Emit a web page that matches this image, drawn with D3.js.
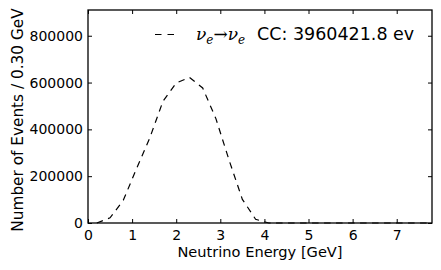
<!DOCTYPE html>
<html>
<head>
<meta charset="utf-8">
<script src="https://cdn.jsdelivr.net/npm/d3@7"></script>
<style>
  body { margin: 0; background: #fff; }
  text { font-family: "DejaVu Sans", sans-serif; }
</style>
</head>
<body>
<svg id="chart"></svg>
<script>
// bin centres (GeV) and event counts
const energies = [0.2, 0.5, 0.8, 1.1, 1.4, 1.7, 2.0, 2.3, 2.6, 2.9, 3.2, 3.5, 3.8, 4.1,
                  4.4, 4.7, 5.0, 5.3, 5.6, 5.9, 6.2, 6.5, 6.8, 7.1, 7.4, 7.7];
const events = [0, 22000, 97000, 232000, 363000, 520000, 598000, 622000, 577000, 446000,
                268000, 101000, 16000, 0, 0, 0, 0, 0, 0, 0, 0, 0, 0, 0, 0, 0];
const xTicks = [0, 1, 2, 3, 4, 5, 6, 7];
const yTicks = [0, 200000, 400000, 600000, 800000];
const legendLabel = "CC: 3960421.8 ev";

const data = energies.map((e, i) => ({ e, n: events[i] }));

const width = 441;
const height = 270;
const margin = { top: 10, right: 9, bottom: 47, left: 88 };

const svg = d3.select("#chart")
  .attr("width", width)
  .attr("height", height);

const x = d3.scaleLinear()
  .domain([0, 7.8])
  .range([margin.left, width - margin.right]);

const y = d3.scaleLinear()
  .domain([0, 910000])
  .range([height - margin.bottom, margin.top]);

// inward ticks on all four sides, like matplotlib
const tickLen = 4;
const axes = [
  { axis: d3.axisBottom(x).tickValues(xTicks).tickFormat(d3.format("d")), t: `translate(0,${y(0)})`, pad: 7 },
  { axis: d3.axisTop(x).tickValues(xTicks).tickFormat(""), t: `translate(0,${margin.top})`, pad: 5 },
  { axis: d3.axisLeft(y).tickValues(yTicks).tickFormat(d3.format("d")), t: `translate(${margin.left},0)`, pad: 5 },
  { axis: d3.axisRight(y).tickValues(yTicks).tickFormat(""), t: `translate(${width - margin.right},0)`, pad: 5 }
];

axes.forEach(a => {
  const g = svg.append("g")
    .attr("transform", a.t)
    .call(a.axis.tickSizeInner(-tickLen).tickSizeOuter(0).tickPadding(a.pad));
  g.attr("font-size", null).attr("font-family", null);
  g.select(".domain").remove();
  g.selectAll("line").attr("stroke", "#000").attr("stroke-width", 1);
  g.selectAll("text")
    .attr("fill", "#000")
    .style("font-size", "14px")
    .style("font-family", "'DejaVu Sans', sans-serif");
});

// frame
svg.append("rect")
  .attr("x", margin.left)
  .attr("y", margin.top)
  .attr("width", width - margin.left - margin.right)
  .attr("height", height - margin.top - margin.bottom)
  .attr("fill", "none")
  .attr("stroke", "#000")
  .attr("stroke-width", 1.3);

// curve
const line = d3.line()
  .x(d => x(d.e))
  .y(d => y(d.n));

svg.append("path")
  .datum(data)
  .attr("d", line)
  .attr("fill", "none")
  .attr("stroke", "#000")
  .attr("stroke-width", 1.2)
  .attr("stroke-dasharray", "6.5,5.5");

// axis titles
svg.append("text")
  .attr("x", (margin.left + width - margin.right) / 2)
  .attr("y", 257)
  .attr("text-anchor", "middle")
  .style("font-size", "14.6px")
  .text("Neutrino Energy [GeV]");

svg.append("text")
  .attr("transform", "rotate(-90)")
  .attr("x", -120)
  .attr("y", 23)
  .attr("text-anchor", "middle")
  .style("font-size", "15.3px")
  .text("Number of Events / 0.30 GeV");

// legend
svg.append("line")
  .attr("x1", 155).attr("x2", 178)
  .attr("y1", 34.5).attr("y2", 34.5)
  .attr("stroke", "#000")
  .attr("stroke-width", 1.2)
  .attr("stroke-dasharray", "6.5,6");

const mathText = svg.append("text")
  .attr("x", 196)
  .attr("y", 40)
  .style("font-size", "17px")
  .style("font-family", "'DejaVu Serif', serif");
mathText.append("tspan").attr("font-style", "italic").text("ν");
mathText.append("tspan").attr("font-style", "italic").style("font-size", "12px").attr("dy", 4).text("e");
mathText.append("tspan").attr("dy", -4).text("→");
mathText.append("tspan").attr("font-style", "italic").text("ν");
mathText.append("tspan").attr("font-style", "italic").style("font-size", "12px").attr("dy", 4).text("e");

svg.append("text")
  .attr("x", 257)
  .attr("y", 40)
  .style("font-size", "17.5px")
  .text(legendLabel);
</script>
</body>
</html>
